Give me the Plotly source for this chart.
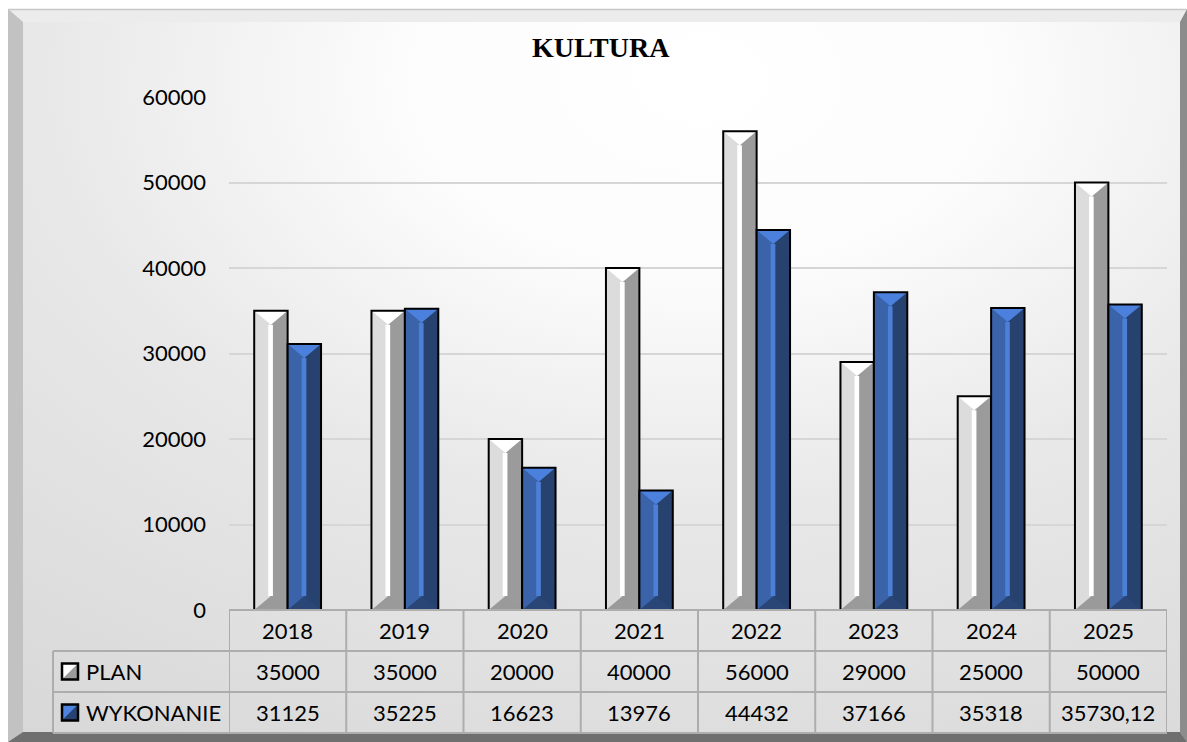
import plotly.graph_objects as go

# ---------------- data ----------------
years = ["2018", "2019", "2020", "2021", "2022", "2023", "2024", "2025"]
plan = [35000, 35000, 20000, 40000, 56000, 29000, 25000, 50000]
wykonanie = [31125, 35225, 16623, 13976, 44432, 37166, 35318, 35730.12]
series_names = ["PLAN", "WYKONANIE"]
y_ticks = [0, 10000, 20000, 30000, 40000, 50000, 60000]
title_text = "KULTURA"

# ---------------- geometry (pixels) ----------------
W, H = 1187, 742
PX_L, PX_R, PX_T, PX_B = 229, 1167, 97, 610
YMAX = 60000
TABLE_ROWS = [610, 651, 692, 733]
TABLE_LEFT = 53
UNITS_PER_PX = YMAX / (PX_B - PX_T)
BEVEL = 14 * UNITS_PER_PX
BAR_W = 0.285

FONT = "Lato"


def fmt(v):
    if float(v).is_integer():
        return str(int(v))
    return ("%.2f" % v).replace(".", ",")


def bar_facets(vals, offset, w):
    polys = {k: ([], []) for k in ["left", "right", "stripe", "top", "bottom", "outline"]}

    def add(key, xs, ys):
        polys[key][0].extend(xs + [xs[0], None])
        polys[key][1].extend(ys + [ys[0], None])

    for i, v in enumerate(vals):
        xl = i + offset
        xr = xl + w
        xc = xl + w * 0.5
        xs1 = xl + w * 0.42
        xs2 = xl + w * 0.56
        d = min(BEVEL, v / 2)
        add("left", [xl, xc, xc, xl], [0, 0, v, v])
        add("right", [xc, xr, xr, xc], [0, 0, v, v])
        add("stripe", [xs1, xs2, xs2, xs1], [d, d, v - d, v - d])
        add("top", [xl, xr, xc], [v, v, v - d])
        add("bottom", [xl, xr, xc], [0, 0, d])
        add("outline", [xl, xr, xr, xl], [0, 0, v, v])
    return polys


fig = go.Figure()

def pix_poly(xs, ys, color, **kw):
    fig.add_trace(go.Scatter(
        x=xs + [xs[0]], y=ys + [ys[0]], mode="lines", fill="toself",
        fillcolor=color, line=dict(width=0, color="rgba(0,0,0,0)"),
        hoverinfo="skip", showlegend=False, xaxis="x", yaxis="y", **kw))

# radial gradient interior (bbox centred at upper middle-right)
fig.add_trace(go.Scatter(
    x=[-500, 1900, 1900, -500, -500], y=[-700, -700, 860, 860, -700],
    mode="lines", fill="toself", line=dict(width=0, color="rgba(0,0,0,0)"),
    fillgradient=dict(type="radial",
                      colorscale=[[0, "#ffffff"], [0.25, "#fcfcfc"], [0.55, "#e8e8e8"], [1, "#d8d8d8"]]),
    hoverinfo="skip", showlegend=False, xaxis="x", yaxis="y"))
pix_poly([0, W, W, 0], [0, 0, 9, 9], "#ffffff")
pix_poly([0, 8, 8, 0], [0, 0, H, H], "#ffffff")
pix_poly([8, W, 1180, 23], [9, 9, 22, 22], "#ececec")
pix_poly([8, 23, 23, 8], [9, 22, 732, H], "#c2c2c2")
pix_poly([W, W, 1180, 1180], [9, H, 732, 22], "#8c8c8c")
pix_poly([8, 23, 1180, W], [H, 732, 732, H], "#6f6f6f")
fig.add_trace(go.Scatter(x=[8, W], y=[9.5, 9.5], mode="lines",
                         line=dict(width=1.5, color="#c8c8c8"), hoverinfo="skip",
                         showlegend=False, xaxis="x", yaxis="y"))

styles = [
    dict(vals=plan, offset=-BAR_W, colors=dict(left="#dcdcdc", right="#9b9b9b", stripe="#ffffff",
                                               top="#ffffff", bottom="#9a9a9a")),
    dict(vals=wykonanie, offset=0.0, colors=dict(left="#3a63aa", right="#27426f", stripe="#4c7fd6",
                                                  top="#4b80dc", bottom="#2a4676")),
]
for s, name in zip(styles, series_names):
    polys = bar_facets(s["vals"], s["offset"], BAR_W)
    for key in ["left", "right", "stripe", "top", "bottom"]:
        xs, ys = polys[key]
        fig.add_trace(go.Scatter(
            x=xs, y=ys, mode="lines", fill="toself", fillcolor=s["colors"][key],
            line=dict(width=0, color="rgba(0,0,0,0)"), hoverinfo="skip",
            showlegend=False, name=name, xaxis="x2", yaxis="y2"))
    xs, ys = polys["outline"]
    fig.add_trace(go.Scatter(
        x=xs, y=ys, mode="lines", line=dict(width=2, color="#000000"),
        hoverinfo="skip", showlegend=False, name=name, xaxis="x2", yaxis="y2"))

shapes = []
LINE = dict(color="#adadad", width=2)
n = len(years)
shapes.append(dict(type="line", xref="x2", yref="y", x0=-0.5, x1=n - 0.5,
                   y0=TABLE_ROWS[0], y1=TABLE_ROWS[0], line=LINE))
for r in TABLE_ROWS[1:]:
    shapes.append(dict(type="line", xref="x", yref="y", x0=TABLE_LEFT, x1=PX_R,
                       y0=r, y1=r, line=LINE))
for k in range(n + 1):
    shapes.append(dict(type="line", xref="x2", yref="y", x0=k - 0.5, x1=k - 0.5,
                       y0=TABLE_ROWS[0], y1=TABLE_ROWS[-1], line=LINE))
shapes.append(dict(type="line", xref="x", yref="y", x0=TABLE_LEFT, x1=TABLE_LEFT,
                   y0=TABLE_ROWS[1], y1=TABLE_ROWS[-1], line=LINE))

annotations = []
row_c = [(TABLE_ROWS[j] + TABLE_ROWS[j + 1]) / 2 for j in range(3)]
for i, yr in enumerate(years):
    annotations.append(dict(xref="x2", yref="y", x=i, y=row_c[0], text=yr, showarrow=False,
                            font=dict(family=FONT, size=22, color="#000")))
    annotations.append(dict(xref="x2", yref="y", x=i, y=row_c[1], text=fmt(plan[i]), showarrow=False,
                            font=dict(family=FONT, size=22, color="#000")))
    annotations.append(dict(xref="x2", yref="y", x=i, y=row_c[2], text=fmt(wykonanie[i]), showarrow=False,
                            font=dict(family=FONT, size=22, color="#000")))

icon_colors = [("#ffffff", "#9a9a9a", "#d0d0d0"), ("#4e84e0", "#284372", "#3a63aa")]
for j, name in enumerate(series_names):
    cy = row_c[j + 1]
    x0, x1, y0, y1 = 62, 78, cy - 8, cy + 8
    light, dark, mid = icon_colors[j]
    shapes.append(dict(type="rect", xref="x", yref="y", x0=x0, x1=x1, y0=y0, y1=y1,
                       fillcolor=mid, line=dict(width=0)))
    shapes.append(dict(type="path", xref="x", yref="y",
                       path=f"M{x0},{y0} L{x1},{y0} L{x0},{y1} Z", fillcolor=light, line=dict(width=0)))
    shapes.append(dict(type="path", xref="x", yref="y",
                       path=f"M{x1},{y1} L{x1},{y0} L{x0},{y1} Z", fillcolor=dark, line=dict(width=0)))
    shapes.append(dict(type="rect", xref="x", yref="y", x0=x0, x1=x1, y0=y0, y1=y1,
                       line=dict(width=2.5, color="#000")))
    annotations.append(dict(xref="x", yref="y", x=84, y=cy, text=name, showarrow=False,
                            xanchor="left", font=dict(family=FONT, size=22, color="#000")))

annotations.append(dict(xref="x", yref="y", x=601, y=47, text="<b>" + title_text + "</b>",
                        showarrow=False, font=dict(family="Liberation Serif", size=28, color="#000")))

fig.update_layout(
    width=W, height=H, margin=dict(l=0, r=0, t=0, b=0, pad=0, autoexpand=False),
    paper_bgcolor="#ffffff", plot_bgcolor="rgba(0,0,0,0)",
    showlegend=False,
    xaxis=dict(domain=[0, 1], range=[0, W], visible=False, fixedrange=True, automargin=False),
    yaxis=dict(domain=[0, 1], range=[H, 0], visible=False, fixedrange=True, automargin=False),
    xaxis2=dict(domain=[PX_L / W, PX_R / W], range=[-0.5, n - 0.5], anchor="y2", automargin=False,
                showgrid=False, showticklabels=False, zeroline=False, showline=False, ticks=""),
    yaxis2=dict(domain=[1 - PX_B / H, 1 - PX_T / H], range=[0, YMAX], anchor="x2", automargin=False,
                tickvals=y_ticks, ticktext=[str(t) for t in y_ticks],
                tickfont=dict(family=FONT, size=22, color="#000"),
                showgrid=True, gridcolor="#d6d6d6", gridwidth=1.5, zeroline=False,
                showline=False, ticks="", ticklabelstandoff=22),
    shapes=shapes, annotations=annotations,
)

fig.write_html("out.html", config={"displayModeBar": False},
               post_script="document.body.style.margin='0';document.body.style.overflow='hidden';")
